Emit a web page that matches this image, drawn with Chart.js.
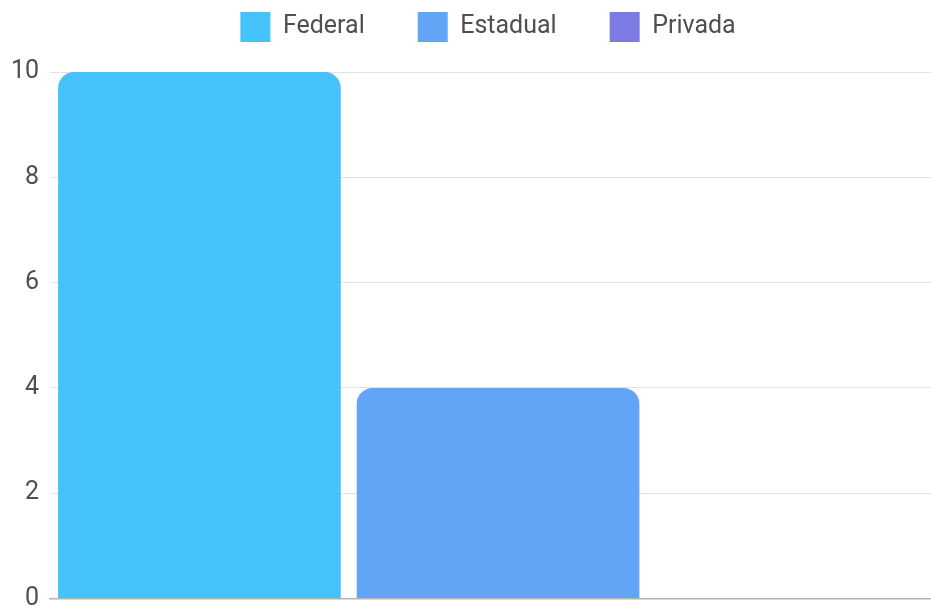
<!DOCTYPE html>
<html>
<head>
<meta charset="utf-8">
<script src="https://cdn.jsdelivr.net/npm/chart.js@4/dist/chart.umd.min.js"></script>
<style>
    html, body { margin: 0; padding: 0; background: #fff; overflow: hidden; }
    .chart-wrap { width: 931px; height: 610px; overflow: hidden; }
    #instituicoesChart { display: block; }
</style>
</head>
<body>
<div class="chart-wrap">
    <canvas id="instituicoesChart" width="946" height="622"></canvas>
</div>
<script>
// Data
const categories = [''];
const federalValues = [10];
const estadualValues = [4];
const privadaValues = [0];
const yMin = 0;
const yMax = 10;
const yStep = 2;

const textColor = '#4f4f4f';

// Legend sits tight at the top while keeping wide gaps between items,
// and is nudged a little to the left of the plot centre
const legendTweaks = {
    id: 'legendTweaks',
    beforeInit(chart) {
        const originalFit = chart.legend.fit;
        chart.legend.fit = function fit() {
            originalFit.bind(chart.legend)();
            this.height += 20;
        };
    },
    afterLayout(chart) {
        chart.legend.left -= 20;
    }
};

const ctx = document.getElementById('instituicoesChart').getContext('2d');

new Chart(ctx, {
    type: 'bar',
    data: {
        labels: categories,
        datasets: [
            { label: 'Federal', data: federalValues, backgroundColor: '#46c2fb' },
            { label: 'Estadual', data: estadualValues, backgroundColor: '#62a5f6' },
            { label: 'Privada', data: privadaValues, backgroundColor: '#7b7be3' }
        ]
    },
    options: {
        responsive: false,
        animation: false,
        layout: { padding: { top: -41, left: 0, right: 0, bottom: 0 } },
        datasets: {
            bar: {
                categoryPercentage: 1,
                barPercentage: 0.9465,
                borderRadius: 16,
                borderSkipped: 'bottom',
                inflateAmount: 0
            }
        },
        plugins: {
            legend: {
                position: 'top',
                fullSize: false,
                labels: {
                    boxWidth: 30,
                    boxHeight: 30,
                    padding: 53,
                    color: textColor,
                    font: { family: 'Roboto', size: 25 }
                }
            },
            tooltip: { enabled: false }
        },
        scales: {
            x: {
                grid: { display: false, drawTicks: false },
                border: { display: true, color: '#b4b4b4', width: 1.5 },
                ticks: { display: false }
            },
            y: {
                min: yMin,
                max: yMax,
                ticks: {
                    stepSize: yStep,
                    padding: 11,
                    color: textColor,
                    font: { family: 'Roboto', size: 25, lineHeight: 1 }
                },
                grid: { color: '#e2e2e2', lineWidth: 1, drawTicks: false },
                border: { display: false }
            }
        }
    },
    plugins: [legendTweaks]
});
</script>
</body>
</html>
